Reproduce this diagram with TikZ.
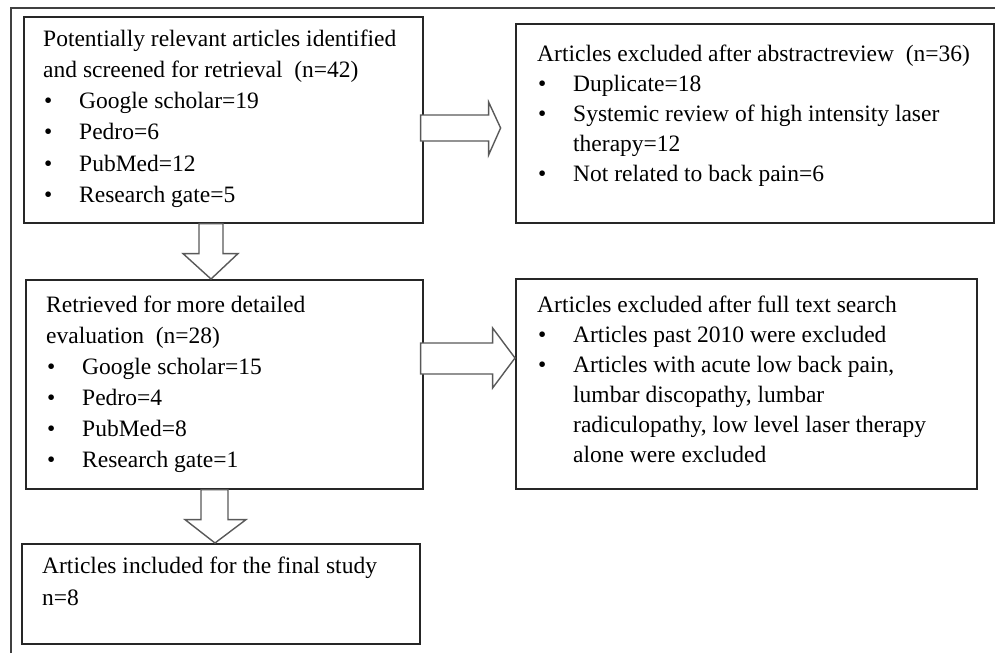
\documentclass[tikz,border=0pt]{standalone}
\usepackage{fontspec}
\setmainfont{Liberation Serif}
\usetikzlibrary{calc}
\newcommand{\bitem}[1]{\makebox[36pt][l]{\hspace{1pt}\textbullet}#1}
\newcommand{\contline}[1]{\hspace*{36pt}#1}
\newcommand{\fl}{\rule{0pt}{17pt}}
\begin{document}
\begin{tikzpicture}[x=1pt,y=-1pt,
  box/.style={draw=black!85, line width=1.6pt, anchor=north west, inner sep=0pt},
  txt/.style={anchor=north west, inner sep=0pt, align=left, font=\fontsize{23.5}{#1}\selectfont},
  txt/.default=31,
  blockarrow/.style={draw=black!65, line width=1.4pt, fill=white, line join=miter},
  framelines/.style={draw=black!75, line width=1.8pt}]
\useasboundingbox (0,0) rectangle (995,653);
% partial outer frame
\coordinate (fbl) at (11,653);
\coordinate (ftl) at (11,8);
\coordinate (ftr) at (995,8);
\draw[framelines] (fbl) -- (ftl) -- (ftr);

% boxes
\node[box, minimum width=399pt, minimum height=206pt] (b1) at (23,16) {};
\node[box, minimum width=478pt, minimum height=199pt] (b2) at (515,23) {};
\node[box, minimum width=397pt, minimum height=209pt] (b3) at (25,279) {};
\node[box, minimum width=461pt, minimum height=210pt] (b4) at (515,278) {};
\node[box, minimum width=398pt, minimum height=100pt] (b5) at (21,543) {};

% texts
\node[txt=31.2] (t1) at (43,29) {\fl Potentially relevant articles identified\\
and screened for retrieval\ \ (n=42)\\
\bitem{Google scholar=19}\\
\bitem{Pedro=6}\\
\bitem{PubMed=12}\\
\bitem{Research gate=5}};

\node[txt=30] (t2) at (537,44) {\fl Articles excluded after abstractreview\ \ (n=36)\\
\bitem{Duplicate=18}\\
\bitem{Systemic review of high intensity laser}\\
\contline{therapy=12}\\
\bitem{Not related to back pain=6}};

\node[txt=31] (t3) at (46,295) {\fl Retrieved for more detailed\\
evaluation\ \ (n=28)\\
\bitem{Google scholar=15}\\
\bitem{Pedro=4}\\
\bitem{PubMed=8}\\
\bitem{Research gate=1}};

\node[txt=30] (t4) at (537,295) {\fl Articles excluded after full text search\\
\bitem{Articles past 2010 were excluded}\\
\bitem{Articles with acute low back pain,}\\
\contline{lumbar discopathy, lumbar}\\
\contline{radiculopathy, low level laser therapy}\\
\contline{alone were excluded}};

\node[txt=32] (t5) at (42,556) {\fl Articles included for the final study\\
n=8};

% block arrows (right)
\draw[blockarrow]
  ([xshift=-3pt,yshift=-99pt]b1.north east) -- ([xshift=65pt,yshift=-99pt]b1.north east)
  -- ([xshift=65pt,yshift=-86pt]b1.north east) -- ([xshift=77pt,yshift=-112pt]b1.north east)
  -- ([xshift=65pt,yshift=-139pt]b1.north east) -- ([xshift=65pt,yshift=-125pt]b1.north east)
  -- ([xshift=-3pt,yshift=-125pt]b1.north east) -- cycle;
\draw[blockarrow]
  ([xshift=-3pt,yshift=-64pt]b3.north east) -- ([xshift=69pt,yshift=-64pt]b3.north east)
  -- ([xshift=69pt,yshift=-49pt]b3.north east) -- ([yshift=-79pt]b3.north east -| b4.west)
  -- ([xshift=69pt,yshift=-109pt]b3.north east) -- ([xshift=69pt,yshift=-95pt]b3.north east)
  -- ([xshift=-3pt,yshift=-95pt]b3.north east) -- cycle;

% block arrows (down)
\draw[blockarrow]
  ([xshift=176pt]b1.south west) -- ([xshift=176pt,yshift=-30pt]b1.south west)
  -- ([xshift=160pt,yshift=-30pt]b1.south west) -- ([xshift=188pt]b1.south west |- b3.north)
  -- ([xshift=215pt,yshift=-30pt]b1.south west) -- ([xshift=200pt,yshift=-30pt]b1.south west)
  -- ([xshift=200pt]b1.south west) -- cycle;
\draw[blockarrow]
  ([xshift=176pt]b3.south west) -- ([xshift=176pt,yshift=-30pt]b3.south west)
  -- ([xshift=160pt,yshift=-30pt]b3.south west) -- ([xshift=190pt]b3.south west |- b5.north)
  -- ([xshift=221pt,yshift=-30pt]b3.south west) -- ([xshift=203pt,yshift=-30pt]b3.south west)
  -- ([xshift=203pt]b3.south west) -- cycle;
\end{tikzpicture}
\end{document}
